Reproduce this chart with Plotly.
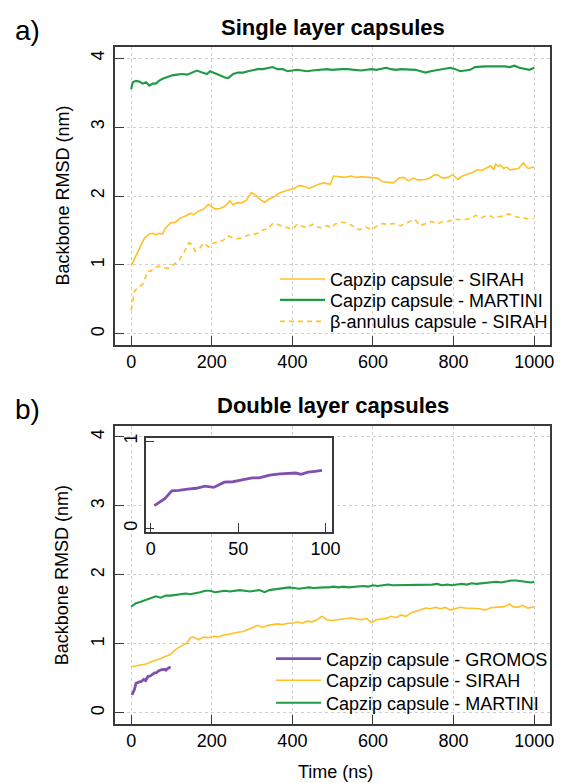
import plotly.graph_objects as go

FONT = "Liberation Sans, Arial, Helvetica, sans-serif"
YELLOW = "#FFC125"
GREEN = "#1F9B45"
PURPLE = "#8150AE"

# ---------------- Panel a: single layer capsules ----------------
a_sirah_t = [0, 16, 33, 45, 53, 61, 69, 78, 86, 98, 110, 122, 135, 147, 155, 167, 180, 192, 200, 208,
             220, 233, 245, 253, 261, 273, 286, 298, 310, 322, 331, 343, 355, 367, 380, 392, 404, 416, 429, 441,
             453, 465, 478, 494, 502, 517, 529, 546, 558, 574, 586, 599, 611, 623, 635, 651, 664, 676, 688, 700,
             712, 729, 741, 753, 761, 773, 786, 798, 810, 822, 835, 847, 859, 871, 879, 892, 900, 904, 912, 916,
             924, 932, 940, 953, 961, 973, 985, 999]
a_sirah_v = [0.99, 1.18, 1.39, 1.45, 1.46, 1.44, 1.46, 1.45, 1.54, 1.61, 1.62, 1.68, 1.71, 1.75, 1.73, 1.78, 1.81, 1.88, 1.85, 1.81,
             1.82, 1.85, 1.93, 1.87, 1.90, 1.90, 1.94, 2.05, 2.01, 1.94, 1.91, 1.96, 1.99, 2.04, 2.07, 2.09, 2.11, 2.15, 2.14, 2.11,
             2.14, 2.17, 2.19, 2.17, 2.29, 2.28, 2.27, 2.29, 2.27, 2.28, 2.27, 2.26, 2.26, 2.21, 2.20, 2.19, 2.26, 2.27, 2.22, 2.26,
             2.23, 2.24, 2.26, 2.31, 2.30, 2.26, 2.27, 2.31, 2.24, 2.29, 2.32, 2.34, 2.38, 2.37, 2.40, 2.44, 2.38, 2.46, 2.43, 2.45,
             2.40, 2.42, 2.38, 2.39, 2.40, 2.48, 2.40, 2.42]

a_martini_t = [0, 4, 12, 20, 29, 37, 45, 53, 61, 69, 78, 90, 102, 114, 127, 139, 151, 163, 176, 188,
               196, 208, 220, 233, 241, 253, 265, 278, 290, 302, 314, 327, 339, 351, 363, 376, 388, 400, 412, 424,
               437, 449, 461, 473, 486, 498, 510, 522, 535, 547, 559, 571, 584, 596, 608, 620, 633, 645, 657, 669,
               682, 694, 706, 718, 731, 743, 755, 767, 780, 792, 804, 816, 829, 841, 853, 865, 878, 890, 902, 914,
               927, 939, 951, 963, 976, 988, 1000]
a_martini_v = [3.55, 3.65, 3.67, 3.66, 3.63, 3.65, 3.60, 3.63, 3.63, 3.67, 3.70, 3.73, 3.75, 3.76, 3.77, 3.76, 3.79, 3.82, 3.79, 3.77,
               3.81, 3.78, 3.75, 3.72, 3.71, 3.77, 3.79, 3.79, 3.81, 3.83, 3.84, 3.84, 3.86, 3.87, 3.84, 3.84, 3.81, 3.82, 3.83, 3.82,
               3.81, 3.82, 3.83, 3.84, 3.84, 3.83, 3.84, 3.84, 3.84, 3.83, 3.82, 3.82, 3.83, 3.84, 3.83, 3.84, 3.86, 3.84, 3.83, 3.84,
               3.84, 3.84, 3.83, 3.81, 3.79, 3.81, 3.82, 3.83, 3.84, 3.86, 3.84, 3.81, 3.82, 3.83, 3.87, 3.88, 3.88, 3.88, 3.88, 3.89,
               3.88, 3.87, 3.89, 3.86, 3.84, 3.83, 3.86]

a_annulus_t = [0, 4, 8, 16, 29, 41, 49, 57, 69, 82, 94, 106, 118, 131, 143, 151, 159, 171, 180, 192,
               204, 216, 229, 241, 253, 265, 278, 290, 302, 314, 327, 339, 351, 363, 376, 388, 400, 412, 424, 437,
               449, 461, 473, 486, 498, 505, 521, 537, 550, 566, 582, 598, 611, 623, 635, 651, 668, 684, 704, 716,
               733, 745, 761, 773, 786, 802, 814, 830, 843, 855, 867, 879, 892, 900, 912, 924, 936, 949, 961, 973,
               985, 999]
a_annulus_v = [0.34, 0.50, 0.62, 0.67, 0.72, 0.91, 0.91, 0.96, 0.98, 0.96, 0.95, 1.01, 1.06, 1.18, 1.32, 1.30, 1.20, 1.25, 1.32, 1.26,
               1.32, 1.33, 1.36, 1.42, 1.39, 1.38, 1.41, 1.43, 1.44, 1.46, 1.51, 1.52, 1.60, 1.59, 1.56, 1.54, 1.52, 1.59, 1.56, 1.54,
               1.59, 1.55, 1.54, 1.57, 1.54, 1.59, 1.62, 1.61, 1.57, 1.51, 1.55, 1.51, 1.57, 1.60, 1.59, 1.60, 1.57, 1.61, 1.66, 1.57,
               1.60, 1.63, 1.60, 1.63, 1.63, 1.66, 1.66, 1.66, 1.68, 1.72, 1.68, 1.71, 1.71, 1.68, 1.70, 1.71, 1.74, 1.71, 1.69, 1.68,
               1.67, 1.67]

# ---------------- Panel b: double layer capsules ----------------
b_gromos_t = [2, 8, 12, 16, 21, 26, 31, 36, 42, 47, 53, 58, 62, 68, 74, 79, 83, 86, 90, 94, 98]
b_gromos_v = [0.26, 0.34, 0.43, 0.435, 0.45, 0.46, 0.485, 0.47, 0.53, 0.535, 0.56, 0.58, 0.58, 0.61, 0.625, 0.63,
              0.635, 0.62, 0.645, 0.655, 0.665]

b_sirah_t = [0, 12, 24, 37, 49, 61, 73, 86, 98, 106, 118, 131, 139, 147, 155, 167, 180, 192, 204, 216,
             229, 241, 253, 265, 278, 290, 302, 314, 327, 339, 351, 363, 376, 388, 400, 412, 424, 437, 449, 461,
             473, 486, 498, 510, 522, 535, 547, 559, 571, 584, 596, 608, 620, 633, 645, 657, 669, 682, 694, 706,
             718, 731, 743, 755, 767, 780, 792, 804, 816, 829, 841, 853, 865, 878, 890, 902, 914, 927, 939, 947,
             959, 971, 984, 1000]
b_sirah_v = [0.67, 0.68, 0.69, 0.71, 0.74, 0.76, 0.79, 0.82, 0.85, 0.90, 0.95, 0.99, 1.02, 1.09, 1.10, 1.06, 1.10, 1.09, 1.11, 1.10,
             1.13, 1.14, 1.16, 1.17, 1.18, 1.21, 1.23, 1.27, 1.24, 1.27, 1.28, 1.29, 1.28, 1.30, 1.30, 1.32, 1.30, 1.33, 1.32, 1.35,
             1.40, 1.35, 1.34, 1.35, 1.36, 1.37, 1.38, 1.36, 1.35, 1.37, 1.31, 1.35, 1.36, 1.37, 1.40, 1.38, 1.42, 1.40, 1.45, 1.47,
             1.49, 1.52, 1.51, 1.53, 1.51, 1.53, 1.49, 1.51, 1.53, 1.52, 1.52, 1.52, 1.51, 1.49, 1.52, 1.53, 1.54, 1.54, 1.58, 1.54,
             1.53, 1.56, 1.52, 1.54]

b_martini_t = [0, 12, 24, 37, 49, 61, 73, 86, 98, 110, 122, 135, 147, 159, 171, 184, 196, 208, 220, 233,
               245, 257, 269, 282, 294, 306, 318, 331, 343, 355, 367, 380, 392, 404, 416, 429, 441, 453, 465, 478,
               490, 502, 514, 527, 539, 551, 563, 576, 588, 600, 612, 624, 637, 649, 661, 673, 686, 698, 710, 722,
               735, 747, 759, 771, 784, 796, 808, 820, 833, 845, 857, 869, 882, 894, 906, 918, 931, 943, 955, 967,
               980, 992, 1000]
b_martini_v = [1.54, 1.59, 1.61, 1.64, 1.66, 1.69, 1.67, 1.70, 1.70, 1.71, 1.72, 1.73, 1.72, 1.73, 1.75, 1.77, 1.77, 1.75, 1.76, 1.77,
               1.76, 1.77, 1.78, 1.77, 1.76, 1.77, 1.78, 1.75, 1.78, 1.79, 1.80, 1.81, 1.82, 1.81, 1.80, 1.81, 1.82, 1.81, 1.82, 1.82,
               1.82, 1.83, 1.82, 1.83, 1.82, 1.83, 1.83, 1.84, 1.83, 1.85, 1.84, 1.85, 1.86, 1.85, 1.85, 1.86, 1.85, 1.86, 1.85, 1.86,
               1.85, 1.86, 1.87, 1.85, 1.86, 1.85, 1.86, 1.87, 1.86, 1.88, 1.87, 1.88, 1.89, 1.89, 1.90, 1.89, 1.91, 1.92, 1.92, 1.91,
               1.90, 1.89, 1.90]

x_ticks = [0, 200, 400, 600, 800, 1000]
y_ticks = [0, 1, 2, 3, 4]
inset_x_ticks = [0, 50, 100]
inset_y_ticks = [0, 1]

W, H = 562, 783


def px_x(p):
    return p / W


def px_y(p):
    return (H - p) / H


fig = go.Figure()

# panel a (each legend entry gets its own legend box so rows can be spaced like the original)
fig.add_trace(go.Scatter(x=a_sirah_t, y=a_sirah_v, mode="lines", name="Capzip capsule - SIRAH",
                         line=dict(color=YELLOW, width=1.6), xaxis="x", yaxis="y", legend="legend"))
fig.add_trace(go.Scatter(x=a_martini_t, y=a_martini_v, mode="lines", name="Capzip capsule - MARTINI",
                         line=dict(color=GREEN, width=2.1), xaxis="x", yaxis="y", legend="legend2"))
fig.add_trace(go.Scatter(x=a_annulus_t, y=a_annulus_v, mode="lines", name="β-annulus capsule - SIRAH",
                         line=dict(color=YELLOW, width=1.6, dash="5px,4px"), xaxis="x", yaxis="y", legend="legend3"))

# panel b
fig.add_trace(go.Scatter(x=b_gromos_t, y=b_gromos_v, mode="lines", name="Capzip capsule - GROMOS",
                         line=dict(color=PURPLE, width=2.8), xaxis="x2", yaxis="y2", legend="legend4"))
fig.add_trace(go.Scatter(x=b_sirah_t, y=b_sirah_v, mode="lines", name="Capzip capsule - SIRAH",
                         line=dict(color=YELLOW, width=1.6), xaxis="x2", yaxis="y2", legend="legend5"))
fig.add_trace(go.Scatter(x=b_martini_t, y=b_martini_v, mode="lines", name="Capzip capsule - MARTINI",
                         line=dict(color=GREEN, width=2.1), xaxis="x2", yaxis="y2", legend="legend6"))

# inset
fig.add_trace(go.Scatter(x=b_gromos_t, y=b_gromos_v, mode="lines", name="GROMOS inset",
                         line=dict(color=PURPLE, width=2.8), xaxis="x3", yaxis="y3", showlegend=False))

LINEC = "#3a3a3a"
base_axis = dict(showline=True, mirror=True, linecolor=LINEC, linewidth=1.5,
                 ticks="inside", ticklen=9, tickwidth=1, tickcolor=LINEC,
                 zeroline=False, tickfont=dict(size=18, color="black", family=FONT),
                 showgrid=True, gridcolor="#cfcfcf", griddash="dot", gridwidth=1)

xa_dom = [px_x(116.7), px_x(558.3)]
ya_dom = [px_y(342.7), px_y(43.3)]
yb_dom = [px_y(723.7), px_y(424.0)]
xi_dom = [px_x(147.7), px_x(337.3)]
yi_dom = [px_y(530.5), px_y(436.0)]

legend_rows = {
    "legend": (279, 276.7), "legend2": (279, 297.7), "legend3": (279, 319.3),
    "legend4": (275, 658.3), "legend5": (275, 680.0), "legend6": (275, 702.7),
}
legend_layout = {}
for key, (lx, ly) in legend_rows.items():
    legend_layout[key] = dict(x=px_x(lx), y=px_y(ly), xanchor="left", yanchor="middle",
                              bgcolor="rgba(0,0,0,0)", borderwidth=0,
                              font=dict(size=18, family=FONT, color="black"), itemwidth=45)

fig.update_layout(
    width=W, height=H,
    margin=dict(l=0, r=0, t=0, b=0),
    paper_bgcolor="white", plot_bgcolor="white",
    font=dict(family=FONT, size=18, color="black"),
    xaxis=dict(base_axis, domain=xa_dom, range=[-40, 1040], tickvals=x_ticks, anchor="y",
               ticklabelstandoff=0),
    yaxis=dict(base_axis, domain=ya_dom, range=[-0.16, 4.16], tickvals=y_ticks, anchor="x",
               tickangle=-90, ticklabelstandoff=2),
    xaxis2=dict(base_axis, domain=xa_dom, range=[-40, 1040], tickvals=x_ticks, anchor="y2",
                ticklabelstandoff=0),
    yaxis2=dict(base_axis, domain=yb_dom, range=[-0.16, 4.16], tickvals=y_ticks, anchor="x2",
                tickangle=-90, ticklabelstandoff=2),
    xaxis3=dict(base_axis, domain=xi_dom, range=[-3, 104], tickvals=inset_x_ticks, anchor="y3",
                showgrid=False, ticklabelstandoff=0),
    yaxis3=dict(base_axis, domain=yi_dom, range=[-0.04, 1.04], tickvals=inset_y_ticks, anchor="x3",
                showgrid=False, tickangle=-90, ticklabelstandoff=0),
    showlegend=True,
    **legend_layout,
)

annotations = [
    dict(text="<b>Single layer capsules</b>", x=px_x(338), y=px_y(23.5), font=dict(size=22)),
    dict(text="<b>Double layer capsules</b>", x=px_x(338), y=px_y(404), font=dict(size=22)),
    dict(text="a)", x=px_x(13), y=px_y(27), xanchor="left", font=dict(size=28)),
    dict(text="b)", x=px_x(13), y=px_y(408), xanchor="left", font=dict(size=28)),
    dict(text="Backbone RMSD (nm)", x=px_x(63), y=px_y(192.5), textangle=-90, font=dict(size=18)),
    dict(text="Backbone RMSD (nm)", x=px_x(63), y=px_y(574), textangle=-90, font=dict(size=18)),
    dict(text="Time (ns)", x=px_x(340), y=px_y(772), font=dict(size=18)),
]
for a in annotations:
    a.setdefault("xanchor", "center")
    a.update(xref="paper", yref="paper", yanchor="middle", showarrow=False)
    a["font"] = dict(a["font"], family=FONT, color="black")
fig.update_layout(annotations=annotations)

fig.write_html("out.html")
